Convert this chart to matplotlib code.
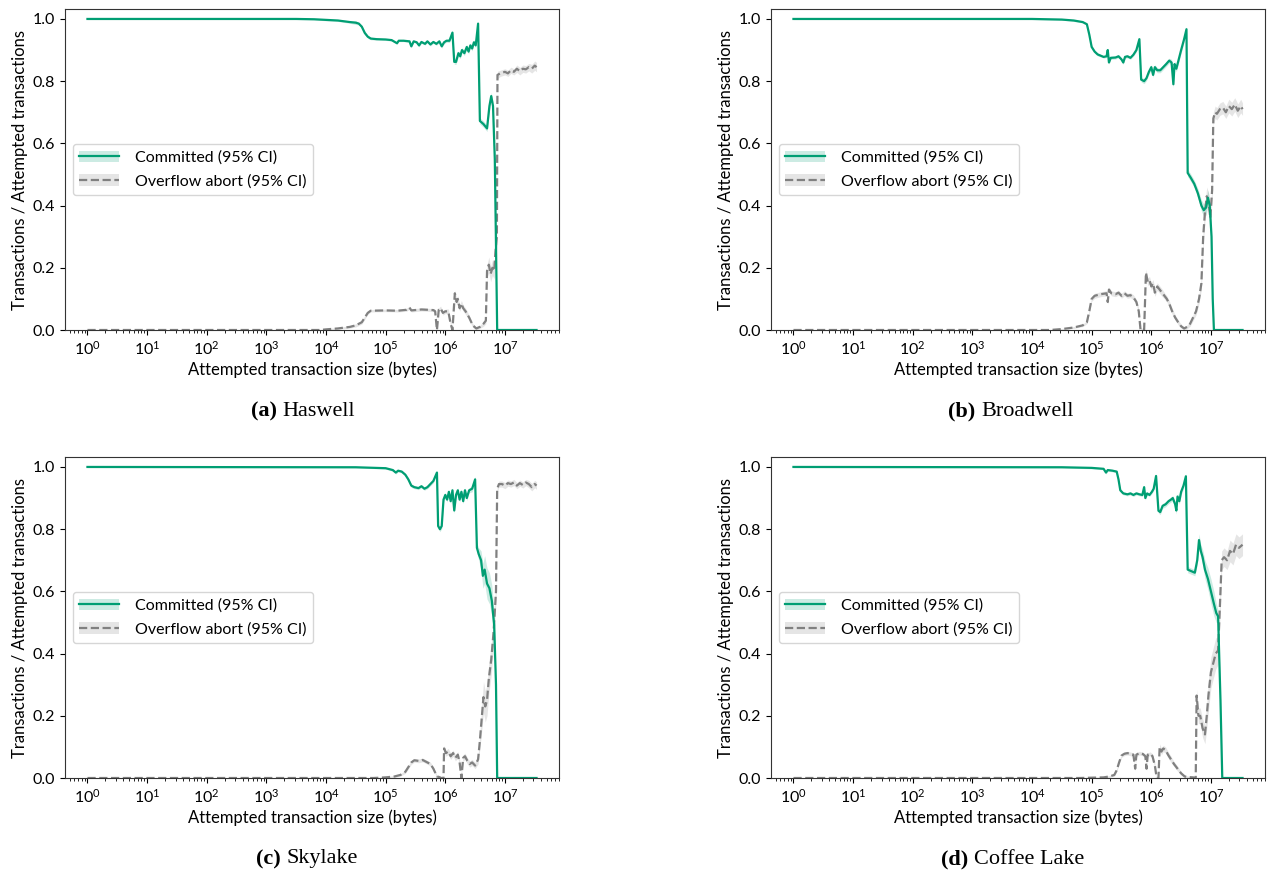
import numpy as np
import matplotlib
matplotlib.use("Agg")
from matplotlib import pyplot as plt
from matplotlib.patches import Patch
from matplotlib.lines import Line2D
from matplotlib.ticker import LogLocator, NullFormatter

plt.rcParams['font.family'] = ['Lato', 'DejaVu Sans']
plt.rcParams['mathtext.fontset'] = 'custom'
plt.rcParams['mathtext.rm'] = 'Lato'
plt.rcParams['mathtext.it'] = 'Lato:italic'
plt.rcParams['font.size'] = 11
plt.rcParams['axes.labelsize'] = 12
plt.rcParams['xtick.labelsize'] = 11.5
plt.rcParams['ytick.labelsize'] = 11.5

GREEN = '#009E73'
GRAY = '#808080'

# rows: log10(size in bytes), fraction, 95% CI half width
haswell_commit = [
    (0, 1.0, .002), (3.5, 1.0, .002), (3.8, .999, .002), (4.0, .997, .003), (4.2, .995, .003),
    (4.4, .99, .004), (4.5, .988, .006), (4.55, .985, .004), (4.6, .975, .005), (4.65, .955, .006),
    (4.7, .943, .005), (4.75, .937, .004), (4.85, .935, .003), (5.0, .934, .003), (5.1, .932, .003),
    (5.19, .922, .004), (5.22, .93, .003), (5.3, .93, .003), (5.4, .928, .004), (5.43, .912, .005),
    (5.47, .928, .004), (5.52, .925, .004), (5.56, .915, .005), (5.6, .926, .004), (5.66, .92, .004),
    (5.7, .928, .004), (5.75, .918, .005), (5.8, .926, .004), (5.85, .92, .005), (5.9, .928, .004),
    (5.94, .912, .006), (5.98, .925, .005), (6.02, .93, .005), (6.07, .93, .006), (6.12, .956, .006),
    (6.15, .862, .008), (6.18, .862, .008), (6.22, .89, .008), (6.25, .88, .008), (6.28, .9, .008),
    (6.32, .89, .008), (6.36, .91, .008), (6.39, .895, .008), (6.42, .915, .008), (6.45, .905, .008),
    (6.48, .925, .008), (6.51, .915, .008), (6.55, .985, .006), (6.58, .672, .01), (6.64, .662, .01),
    (6.70, .648, .01), (6.74, .72, .012), (6.77, .752, .012), (6.80, .72, .015), (6.83, .55, .02),
    (6.87, 0.0, .005), (7.53, 0.0, .001),
]
haswell_abort = [
    (0, 0.0, .001), (3.9, 0.0, .001), (4.0, .002, .002), (4.2, .005, .003), (4.4, .01, .004),
    (4.5, .015, .005), (4.6, .025, .006), (4.65, .04, .006), (4.7, .055, .005), (4.75, .062, .004),
    (5.0, .063, .004), (5.2, .062, .004), (5.35, .065, .005), (5.4, .072, .005), (5.43, .063, .005),
    (5.6, .066, .005), (5.8, .064, .005), (5.83, .06, .006), (5.86, 0.0, .006), (5.89, .065, .006),
    (5.92, .07, .007), (5.96, .055, .007), (6.0, .06, .007), (6.05, .06, .008), (6.09, .02, .008),
    (6.12, 0.0, .006), (6.16, .118, .01), (6.19, .09, .01), (6.21, .1, .01), (6.24, .07, .01),
    (6.27, .085, .01), (6.3, .07, .01), (6.34, .06, .01), (6.4, .04, .008), (6.46, .015, .006),
    (6.52, .005, .005), (6.58, .01, .005), (6.64, .02, .008), (6.68, .03, .01), (6.70, .19, .02),
    (6.73, .21, .025), (6.76, .18, .025), (6.79, .2, .025), (6.82, .19, .025), (6.84, .25, .03),
    (6.865, .30, .03), (6.875, .82, .012), (6.92, .825, .01), (7.0, .83, .01), (7.05, .825, .01),
    (7.1, .835, .01), (7.15, .83, .01), (7.2, .84, .012), (7.25, .832, .012), (7.3, .84, .012),
    (7.35, .838, .012), (7.4, .845, .012), (7.45, .84, .014), (7.5, .85, .015), (7.53, .845, .015),
]

broadwell_commit = [
    (0, 1.0, .002), (4.0, 1.0, .002), (4.5, .998, .002), (4.7, .995, .003), (4.85, .99, .003),
    (4.92, .983, .004), (4.96, .95, .006), (5.0, .91, .006), (5.05, .895, .005), (5.1, .886, .005),
    (5.15, .882, .004), (5.2, .878, .004), (5.25, .88, .004), (5.27, .9, .006), (5.29, .86, .006),
    (5.32, .875, .005), (5.4, .876, .005), (5.45, .88, .005), (5.5, .87, .005), (5.53, .86, .006),
    (5.56, .878, .005), (5.6, .88, .005), (5.65, .875, .005), (5.7, .885, .005), (5.75, .9, .006),
    (5.80, .935, .006), (5.83, .805, .008), (5.88, .80, .008), (5.92, .81, .008), (5.96, .83, .008),
    (6.0, .845, .008), (6.03, .82, .008), (6.06, .845, .008), (6.1, .835, .008), (6.15, .835, .008),
    (6.2, .845, .008), (6.25, .855, .008), (6.3, .866, .008), (6.34, .86, .01), (6.37, .79, .012),
    (6.39, .855, .01), (6.42, .84, .01), (6.46, .87, .01), (6.5, .9, .01), (6.55, .935, .01),
    (6.59, .967, .008), (6.61, .505, .012), (6.66, .49, .012), (6.72, .47, .012), (6.78, .44, .015),
    (6.84, .40, .018), (6.88, .385, .02), (6.92, .395, .025), (6.95, .425, .025), (6.98, .4, .02),
    (7.01, .3, .02), (7.03, .1, .01), (7.05, 0.0, .005), (7.53, 0.0, .001),
]
broadwell_abort = [
    (0, 0.0, .001), (4.3, 0.0, .001), (4.5, .003, .002), (4.7, .008, .003), (4.85, .015, .004),
    (4.92, .025, .005), (4.96, .06, .006), (5.0, .1, .008), (5.05, .11, .008), (5.15, .115, .008),
    (5.25, .118, .008), (5.27, .09, .008), (5.29, .13, .008), (5.33, .118, .008), (5.4, .115, .008),
    (5.45, .12, .008), (5.5, .11, .008), (5.55, .118, .008), (5.6, .11, .008), (5.65, .112, .008),
    (5.7, .105, .008), (5.75, .09, .008), (5.79, .06, .008), (5.82, 0.0, .006), (5.88, 0.0, .006),
    (5.91, .184, .012), (5.94, .155, .012), (5.97, .16, .012), (6.0, .14, .012), (6.03, .15, .012),
    (6.06, .12, .012), (6.1, .14, .012), (6.14, .13, .012), (6.18, .12, .012), (6.22, .11, .01),
    (6.26, .1, .01), (6.3, .085, .01), (6.35, .06, .01), (6.4, .04, .008), (6.45, .025, .008),
    (6.5, .012, .006), (6.55, .005, .005), (6.6, .01, .006), (6.65, .02, .008), (6.7, .04, .01),
    (6.75, .06, .012), (6.8, .1, .015), (6.84, .15, .02), (6.87, .3, .025), (6.9, .38, .03),
    (6.93, .43, .03), (6.96, .41, .03), (6.99, .36, .025), (7.02, .45, .025), (7.04, .68, .02),
    (7.07, .70, .02), (7.1, .695, .02), (7.15, .71, .02), (7.2, .715, .02), (7.25, .70, .02),
    (7.3, .72, .022), (7.35, .71, .022), (7.4, .725, .022), (7.45, .705, .022), (7.5, .72, .022),
    (7.53, .71, .02),
]

skylake_commit = [
    (0, 1.0, .002), (4.5, .999, .002), (5.0, .996, .003), (5.12, .99, .004), (5.17, .982, .005),
    (5.21, .988, .004), (5.27, .985, .004), (5.33, .975, .005), (5.38, .96, .006), (5.43, .94, .006),
    (5.48, .935, .005), (5.55, .932, .005), (5.6, .938, .005), (5.65, .93, .005), (5.7, .935, .005),
    (5.75, .945, .006), (5.8, .955, .006), (5.86, .982, .006), (5.88, .81, .008), (5.91, .80, .008),
    (5.94, .81, .008), (5.97, .895, .008), (6.0, .91, .008), (6.03, .895, .008), (6.06, .92, .008),
    (6.09, .89, .008), (6.12, .925, .008), (6.15, .86, .01), (6.18, .91, .008), (6.21, .925, .008),
    (6.24, .895, .008), (6.27, .92, .008), (6.3, .89, .008), (6.33, .925, .008), (6.36, .90, .008),
    (6.4, .925, .008), (6.45, .93, .01), (6.50, .96, .01), (6.53, .74, .015), (6.56, .72, .02),
    (6.6, .70, .03), (6.63, .65, .04), (6.66, .67, .045), (6.7, .625, .05), (6.74, .61, .05),
    (6.78, .57, .05), (6.82, .49, .045), (6.85, .3, .03), (6.87, 0.0, .005), (7.53, 0.0, .001),
]
skylake_abort = [
    (0, 0.0, .001), (4.8, 0.0, .001), (5.0, .002, .002), (5.15, .005, .003), (5.25, .01, .004),
    (5.33, .02, .005), (5.38, .035, .006), (5.43, .05, .006), (5.48, .057, .006), (5.55, .055, .006),
    (5.62, .058, .006), (5.7, .05, .006), (5.75, .045, .006), (5.8, .03, .006), (5.86, .005, .004),
    (5.9, .003, .003), (5.93, 0.0, .003), (5.97, 0.0, .003), (5.98, .095, .01), (6.01, .08, .01),
    (6.05, .085, .01), (6.09, .07, .01), (6.13, .08, .01), (6.17, .065, .01), (6.21, .075, .01),
    (6.24, .05, .01), (6.27, 0.0, .006), (6.3, .065, .01), (6.33, .07, .01), (6.37, .055, .01),
    (6.41, .045, .01), (6.45, .05, .01), (6.5, .04, .01), (6.55, .06, .015), (6.58, .12, .025),
    (6.61, .19, .04), (6.64, .26, .05), (6.67, .23, .05), (6.7, .25, .05), (6.73, .32, .05),
    (6.77, .38, .05), (6.81, .47, .045), (6.85, .6, .03), (6.87, .93, .01), (6.9, .945, .01),
    (6.95, .945, .01), (7.0, .94, .01), (7.05, .948, .01), (7.1, .945, .01), (7.15, .95, .01),
    (7.2, .94, .01), (7.25, .948, .01), (7.3, .942, .01), (7.35, .95, .01), (7.4, .945, .012),
    (7.45, .935, .012), (7.5, .945, .012), (7.53, .94, .012),
]

coffeelake_commit = [
    (0, 1.0, .002), (4.5, .999, .002), (5.0, .997, .003), (5.2, .994, .003), (5.24, .982, .005),
    (5.27, .99, .004), (5.35, .988, .004), (5.42, .985, .004), (5.45, .96, .006), (5.48, .925, .006),
    (5.53, .915, .005), (5.6, .912, .005), (5.65, .915, .005), (5.7, .91, .005), (5.75, .915, .005),
    (5.8, .912, .005), (5.85, .91, .005), (5.88, .935, .006), (5.9, .9, .006), (5.93, .915, .005),
    (5.97, .91, .005), (6.01, .92, .006), (6.04, .93, .006), (6.08, .971, .006), (6.12, .859, .008),
    (6.15, .855, .008), (6.19, .875, .008), (6.24, .88, .008), (6.29, .89, .008), (6.33, .895, .008),
    (6.36, .9, .008), (6.4, .88, .01), (6.42, .86, .012), (6.44, .905, .01), (6.47, .89, .01),
    (6.5, .92, .01), (6.54, .94, .01), (6.58, .97, .008), (6.61, .67, .01), (6.67, .665, .01),
    (6.73, .66, .01), (6.77, .70, .015), (6.8, .765, .02), (6.83, .73, .02), (6.86, .71, .025),
    (6.9, .67, .03), (6.95, .64, .035), (7.0, .60, .04), (7.05, .56, .04), (7.09, .53, .03),
    (7.12, .52, .02), (7.16, .25, .01), (7.19, 0.0, .005), (7.53, 0.0, .001),
]
coffeelake_abort = [
    (0, 0.0, .001), (4.8, 0.0, .001), (5.2, .002, .002), (5.3, .005, .003), (5.38, .01, .004),
    (5.42, .025, .005), (5.46, .05, .006), (5.5, .072, .006), (5.55, .078, .006), (5.6, .08, .006),
    (5.66, .077, .006), (5.7, .075, .006), (5.73, .03, .008), (5.75, .075, .006), (5.8, .08, .006),
    (5.86, .077, .006), (5.9, .07, .006), (5.92, .03, .008), (5.94, .075, .006), (5.98, .078, .006),
    (6.02, .07, .008), (6.06, .04, .008), (6.09, 0.0, .005), (6.12, 0.0, .005), (6.14, .10, .01),
    (6.17, .085, .01), (6.2, .095, .01), (6.24, .09, .01), (6.28, .075, .01), (6.33, .06, .01),
    (6.38, .045, .008), (6.44, .03, .008), (6.5, .015, .006), (6.56, .005, .004), (6.62, .003, .003),
    (6.7, .002, .003), (6.745, 0.0, .003), (6.76, .265, .02), (6.79, .2, .025), (6.82, .2, .025),
    (6.86, .16, .03), (6.9, .14, .03), (6.93, .2, .04), (6.96, .27, .05), (7.0, .34, .05),
    (7.04, .37, .05), (7.08, .40, .05), (7.12, .41, .045), (7.15, .55, .04), (7.18, .70, .03),
    (7.22, .71, .03), (7.27, .70, .03), (7.32, .73, .035), (7.37, .72, .035), (7.42, .75, .035),
    (7.47, .74, .035), (7.53, .75, .035),
]

captions = [('(a)', 'Haswell'), ('(b)', 'Broadwell'), ('(c)', 'Skylake'), ('(d)', 'Coffee Lake')]
series = [
    (haswell_commit, haswell_abort),
    (broadwell_commit, broadwell_abort),
    (skylake_commit, skylake_abort),
    (coffeelake_commit, coffeelake_abort),
]
legend_labels = ['Committed (95% CI)', 'Overflow abort (95% CI)']
decades = [1, 10, 100, 1e3, 1e4, 1e5, 1e6, 1e7]

W, H = 1270, 875
fig = plt.figure(figsize=(W / 100, H / 100), dpi=100)

# axes boxes in pixels: left, top spine
ax_px = [(65, 9), (771, 9), (65, 457), (771, 457)]
cap_px = [(303, 411), (1011, 411), (307, 859), (1013, 859)]
aw, ah = 494, 321

for i, (commit, abort) in enumerate(series):
    l, t = ax_px[i]
    ax = fig.add_axes([l / W, 1 - (t + ah) / H, aw / W, ah / H])
    c = np.array(commit)
    a = np.array(abort)
    xc = 10 ** c[:, 0]
    xa = 10 ** a[:, 0]
    ax.fill_between(xc, np.clip(c[:, 1] - c[:, 2], 0, 1), np.clip(c[:, 1] + c[:, 2], 0, 1),
                    color=GREEN, alpha=0.2, lw=0)
    ax.fill_between(xa, np.clip(a[:, 1] - a[:, 2], 0, 1), np.clip(a[:, 1] + a[:, 2], 0, 1),
                    color=GRAY, alpha=0.2, lw=0)
    ax.plot(xa, a[:, 1], color=GRAY, lw=1.6, ls='--')
    ax.plot(xc, c[:, 1], color=GREEN, lw=1.6)
    ax.set_xscale('log')
    ax.set_xticks(decades)
    ax.xaxis.set_minor_locator(LogLocator(subs=np.arange(2, 10), numticks=20))
    ax.xaxis.set_minor_formatter(NullFormatter())
    ax.set_ylim(0, 1.032)
    ax.set_xlabel('Attempted transaction size (bytes)', labelpad=3)
    ax.set_ylabel('Transactions / Attempted transactions')
    ax.yaxis.set_label_coords(-0.074, 0.5)
    for s in ax.spines.values():
        s.set_color('#333333')

    handles = [
        (Patch(facecolor=GREEN, alpha=0.2, lw=0), Line2D([], [], color=GREEN, lw=1.6)),
        (Patch(facecolor=GRAY, alpha=0.2, lw=0), Line2D([], [], color=GRAY, lw=1.6, ls='--')),
    ]
    ax.legend(handles, legend_labels, loc='center left', handlelength=2.5, fontsize=11.5,
              edgecolor='#cccccc', framealpha=0.8, labelspacing=0.6, handletextpad=1.0)

    # caption: bold label + normal name, centered as a whole
    cx, cy = cap_px[i]
    tag, name = captions[i]
    t1 = fig.text(0, 1 - cy / H, tag + ' ', family='Liberation Serif', weight='bold',
                  fontsize=16, va='center', ha='left')
    t2 = fig.text(0, 1 - cy / H, name, family='Liberation Serif', fontsize=16,
                  va='center', ha='left')
    r = fig.canvas.get_renderer()
    w1 = t1.get_window_extent(r).width
    w2 = t2.get_window_extent(r).width
    x0 = cx - (w1 + w2) / 2
    t1.set_x(x0 / W)
    t2.set_x((x0 + w1) / W)

fig.savefig('out.png', dpi=100)
